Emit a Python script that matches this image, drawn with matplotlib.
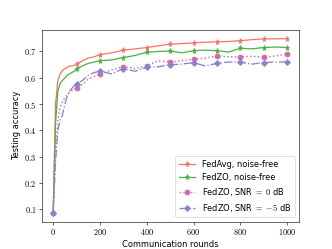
import matplotlib
matplotlib.use("Agg")
import matplotlib.pyplot as plt
from matplotlib.ticker import FuncFormatter

plt.rcParams['mathtext.fontset'] = 'cm'
plt.rcParams['font.size'] = 11.5

rounds = [0, 10, 20, 30, 40, 50, 60, 70, 80, 90, 100, 125, 150, 175, 200, 250, 300, 350,
          400, 450, 500, 550, 600, 650, 700, 750, 800, 850, 900, 950, 1000]
fedavg = [0.087, 0.50, 0.59, 0.615, 0.628, 0.635, 0.64, 0.645, 0.645, 0.648, 0.652, 0.665,
          0.675, 0.68, 0.688, 0.695, 0.705, 0.71, 0.715, 0.722, 0.728, 0.73, 0.733, 0.735,
          0.737, 0.738, 0.741, 0.745, 0.748, 0.748, 0.749]
fedzo = [0.087, 0.43, 0.55, 0.58, 0.59, 0.60, 0.61, 0.615, 0.62, 0.625, 0.635, 0.645,
         0.655, 0.66, 0.665, 0.668, 0.677, 0.685, 0.697, 0.70, 0.702, 0.695, 0.703, 0.705,
         0.703, 0.698, 0.712, 0.71, 0.715, 0.717, 0.715]
fedzo_0db = [0.087, 0.33, 0.44, 0.49, 0.51, 0.525, 0.535, 0.545, 0.552, 0.556, 0.562, 0.575,
             0.595, 0.605, 0.615, 0.63, 0.643, 0.635, 0.645, 0.665, 0.66, 0.665, 0.67, 0.675,
             0.683, 0.68, 0.68, 0.682, 0.678, 0.683, 0.69]
fedzo_m5db = [0.087, 0.28, 0.40, 0.44, 0.46, 0.50, 0.53, 0.55, 0.56, 0.57, 0.578, 0.59,
              0.61, 0.62, 0.625, 0.615, 0.635, 0.625, 0.64, 0.642, 0.65, 0.652, 0.658, 0.645,
              0.655, 0.66, 0.66, 0.652, 0.658, 0.66, 0.66]
labels = ['FedAvg, noise-free', 'FedZO, noise-free',
          r'FedZO, SNR $=$ $0$ dB', r'FedZO, SNR $=$ $-5$ dB']

marks = [i for i, r in enumerate(rounds) if r % 100 == 0]

fig, ax = plt.subplots(figsize=(6.4, 4.8), dpi=51.875)
ax.plot(rounds, fedavg, color='#f4776b', ls='-', lw=1.8, marker='*', markersize=7, markevery=marks, label=labels[0])
ax.plot(rounds, fedzo, color='#4db344', ls='-', lw=1.8, marker='*', markersize=7, markevery=marks, label=labels[1])
ax.plot(rounds, fedzo_0db, color='#cf6aa8', ls=':', lw=2.0, marker='o', markersize=7, markevery=marks, label=labels[2])
ax.plot(rounds, fedzo_m5db, color='#8a83cb', ls='-.', lw=1.8, marker='D', markersize=6, markevery=marks, label=labels[3])

fmt = FuncFormatter(lambda v, p: f'${v:g}$')
ax.xaxis.set_major_formatter(fmt)
ax.yaxis.set_major_formatter(fmt)
ax.set_xlabel('Communication rounds')
ax.set_ylabel('Testing accuracy')
ax.legend(loc='lower right')
fig.savefig('out.png', dpi=51.875)
